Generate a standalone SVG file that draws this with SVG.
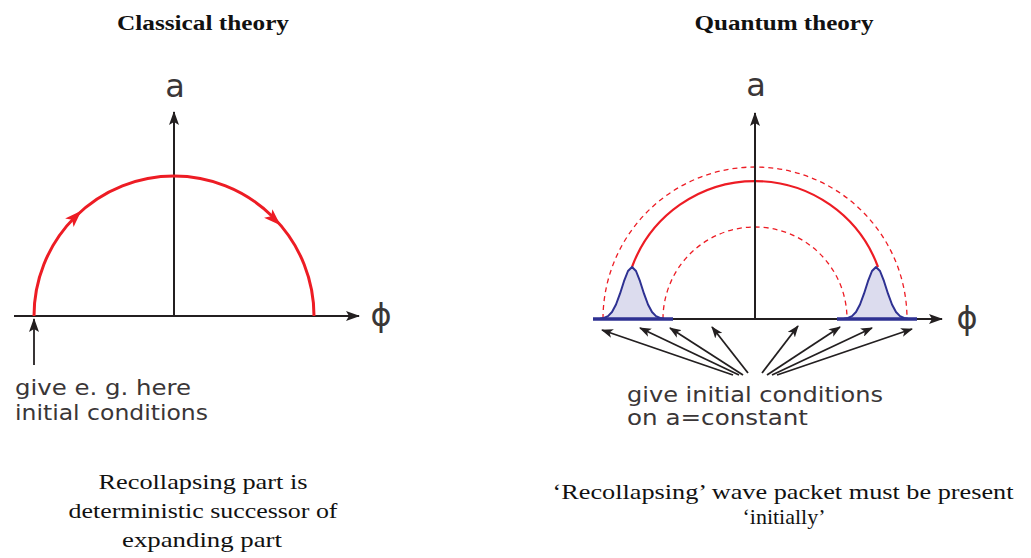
<svg xmlns="http://www.w3.org/2000/svg" width="1031" height="558" viewBox="0 0 1031 558">
<defs>
<marker id="ah" markerWidth="14" markerHeight="10" refX="13" refY="5" orient="auto" markerUnits="userSpaceOnUse">
<path d="M0,0 L14,5 L0,10 L3,5 Z" fill="#231f20"/>
</marker>
<marker id="ahs" markerWidth="12" markerHeight="9" refX="11" refY="4.5" orient="auto" markerUnits="userSpaceOnUse">
<path d="M0,0 L12,4.5 L0,9 L3,4.5 Z" fill="#231f20"/>
</marker>
<path id="redhead" d="M9,0 L-8,-6 L-4,0 L-8,6 Z" fill="#ed1c24"/>
</defs>
<style>
.title{font-family:"Liberation Serif","DejaVu Serif",serif;font-weight:bold;font-size:20px;fill:#111;}
.cap{font-family:"Liberation Serif","DejaVu Serif",serif;font-size:22px;fill:#111;}
.lbl{font-family:"DejaVu Sans","Liberation Sans",sans-serif;font-size:22px;fill:#3a3637;}
.axl{font-family:"DejaVu Sans","Liberation Sans",sans-serif;font-size:32px;fill:#3a3637;}
.axis{stroke:#231f20;stroke-width:2;fill:none;}
.ptr{stroke:#231f20;stroke-width:1.8;fill:none;}
.red{stroke:#ed1c24;stroke-width:3;fill:none;}
.red2{stroke:#ed1c24;stroke-width:2.2;fill:none;}
.dash{stroke:#ed1c24;stroke-width:1.3;fill:none;stroke-dasharray:5,4;}
.wave{stroke:#2e3192;stroke-width:2;fill:#dcdcee;stroke-linejoin:round;}
.base{stroke:#2e3192;stroke-width:3.5;fill:none;}
</style>

<g id="title-classical"><text class="title" x="203" y="30" text-anchor="middle" textLength="172" lengthAdjust="spacingAndGlyphs">Classical theory</text></g>
<g id="title-quantum"><text class="title" x="784" y="30" text-anchor="middle" textLength="179" lengthAdjust="spacingAndGlyphs">Quantum theory</text></g>

<g id="classical-axes">
<line class="axis" x1="14" y1="316" x2="359" y2="316" marker-end="url(#ah)"/>
<line class="axis" x1="174" y1="316" x2="174" y2="112" marker-end="url(#ah)"/>
<text class="axl" x="175" y="97" text-anchor="middle">a</text>
<text class="axl" x="381" y="326" text-anchor="middle">ϕ</text>
</g>

<g id="classical-trajectory">
<path class="red" d="M34,316 A140,140 0 0,1 314,316"/>
<use href="#redhead" transform="translate(75,217) rotate(-45)"/>
<use href="#redhead" transform="translate(274,219) rotate(44)"/>
</g>

<g id="classical-note">
<line class="ptr" x1="34" y1="365" x2="34" y2="319" marker-end="url(#ah)"/>
<text class="lbl" x="15" y="395" textLength="176" lengthAdjust="spacingAndGlyphs">give e. g. here</text>
<text class="lbl" x="15" y="420" textLength="193" lengthAdjust="spacingAndGlyphs">initial conditions</text>
</g>

<g id="classical-caption">
<text class="cap" x="203" y="489" text-anchor="middle" textLength="209" lengthAdjust="spacingAndGlyphs">Recollapsing part is</text>
<text class="cap" x="203" y="518" text-anchor="middle" textLength="269" lengthAdjust="spacingAndGlyphs">deterministic successor of</text>
<text class="cap" x="202" y="547" text-anchor="middle" textLength="160" lengthAdjust="spacingAndGlyphs">expanding part</text>
</g>

<g id="quantum-arcs">
<path class="dash" d="M603,319 A152,152 0 0,1 907,319"/>
<path class="dash" d="M663,319 A92,92 0 0,1 847,319"/>
<path class="red2" d="M632,267 A131,131 0 0,1 878,267"/>
</g>

<g id="quantum-packets">
<path class="wave" d="M598,319 L600,318.7 L604,318 L608,316.1 L612,312 L616,304.5 L620,293.7 L624,281.2 L628,271 L632,267 L636,271 L640,281.2 L644,293.7 L648,304.5 L652,312 L656,316.1 L660,318 L664,318.7 L666,319 Z"/>
<path class="wave" d="M842,319 L844,318.7 L848,318 L852,316.1 L856,312 L860,304.5 L864,293.7 L868,281.2 L872,271 L876,267 L880,271 L884,281.2 L888,293.7 L892,304.5 L896,312 L900,316.1 L904,318 L908,318.7 L910,319 Z"/>
</g>

<g id="quantum-axes">
<line class="axis" x1="593" y1="319" x2="942" y2="319" marker-end="url(#ah)"/>
<line class="axis" x1="755" y1="319" x2="755" y2="113" marker-end="url(#ah)"/>
<line class="base" x1="593" y1="319" x2="673" y2="319"/>
<line class="base" x1="837" y1="319" x2="917" y2="319"/>
<text class="axl" x="756" y="96" text-anchor="middle">a</text>
<text class="axl" x="967" y="329" text-anchor="middle">ϕ</text>
</g>

<g id="connectors">
<line class="ptr" x1="733" y1="375" x2="602" y2="330" marker-end="url(#ahs)"/>
<line class="ptr" x1="739" y1="375" x2="640" y2="328" marker-end="url(#ahs)"/>
<line class="ptr" x1="743" y1="375" x2="670" y2="328" marker-end="url(#ahs)"/>
<line class="ptr" x1="748" y1="373" x2="712" y2="327" marker-end="url(#ahs)"/>
<line class="ptr" x1="762" y1="373" x2="798" y2="326" marker-end="url(#ahs)"/>
<line class="ptr" x1="767" y1="375" x2="840" y2="327" marker-end="url(#ahs)"/>
<line class="ptr" x1="772" y1="375" x2="872" y2="328" marker-end="url(#ahs)"/>
<line class="ptr" x1="777" y1="375" x2="912" y2="329" marker-end="url(#ahs)"/>
</g>

<g id="quantum-note">
<text class="lbl" x="627" y="402" textLength="256" lengthAdjust="spacingAndGlyphs">give initial conditions</text>
<text class="lbl" x="627" y="425" textLength="181" lengthAdjust="spacingAndGlyphs">on a=constant</text>
</g>

<g id="quantum-caption">
<text class="cap" x="783" y="499" text-anchor="middle" textLength="461" lengthAdjust="spacingAndGlyphs">‘Recollapsing’ wave packet must be present</text>
<text class="cap" x="784" y="524" text-anchor="middle">‘initially’</text>
</g>
</svg>
